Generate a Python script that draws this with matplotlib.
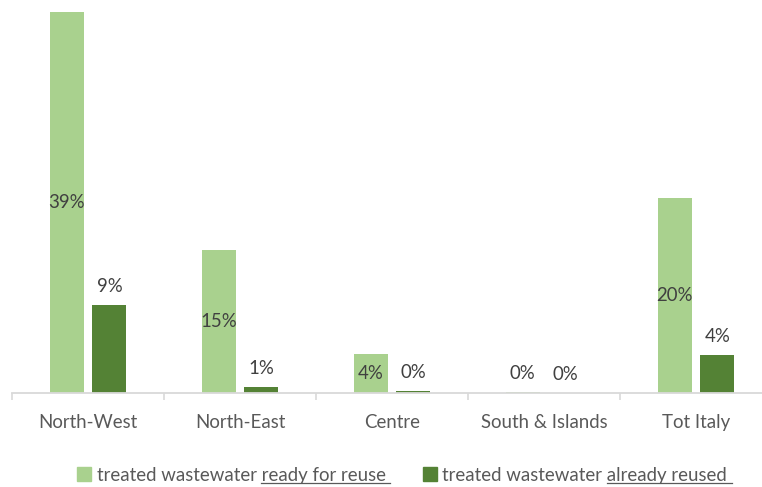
import numpy as np
import matplotlib.pyplot as plt
from matplotlib.patches import Patch
from matplotlib.lines import Line2D

plt.rcParams['font.family'] = ['Lato', 'DejaVu Sans']

regions = ["North-West", "North-East", "Centre", "South & Islands", "Tot Italy"]
ready_for_reuse = [39.0, 14.6, 4.0, 0.1, 19.9]
already_reused = [9.0, 0.6, 0.25, 0.0, 3.9]

legend_prefix = "treated wastewater "
legend_tails = ["ready for reuse", "already reused"]

light = "#a9d18e"
dark = "#548235"
label_col = "#404040"
axis_col = "#595959"
fs = 13.4

W, H = 762, 487
fig = plt.figure(figsize=(W / 100, H / 100), dpi=100)
ax = fig.add_axes([12 / W, (H - 393) / H, 760 / W, 391 / H])

x = np.arange(len(regions))
bw = 0.224
off = 0.141
b1 = ax.bar(x - off, ready_for_reuse, bw, color=light, linewidth=0)
b2 = ax.bar(x + off, already_reused, bw, color=dark, linewidth=0)

ax.set_xlim(-0.5, len(regions) - 0.5)
ax.set_ylim(0, 40)

# light bars: label in the middle, unless the bar is too thin
for rect, v in zip(b1, ready_for_reuse):
    cx = rect.get_x() + rect.get_width() / 2
    if v >= 2:
        ax.text(cx, v / 2, f"{v:.0f}%", ha="center", va="center",
                fontsize=fs, color=label_col)
    else:
        ax.annotate(f"{v:.0f}%", (cx, v), xytext=(0, 7), textcoords="offset points",
                    ha="center", va="bottom", fontsize=fs, color=label_col)

for rect, v in zip(b2, already_reused):
    cx = rect.get_x() + rect.get_width() / 2
    ax.annotate(f"{v:.0f}%", (cx, v), xytext=(0, 7), textcoords="offset points",
                ha="center", va="bottom", fontsize=fs, color=label_col)

for s in ["top", "right", "left"]:
    ax.spines[s].set_visible(False)
ax.spines["bottom"].set_color("#d9d9d9")
ax.spines["bottom"].set_linewidth(1.3)
ax.set_yticks([])

# category labels between boundary ticks
ax.set_xticks(np.arange(len(regions) + 1) - 0.5)
ax.set_xticklabels([])
ax.tick_params(axis="x", length=5, width=1.2, color="#d9d9d9")
ax.set_xticks(x, minor=True)
ax.set_xticklabels(regions, minor=True, fontsize=fs, color=axis_col)
ax.tick_params(axis="x", which="minor", length=0, pad=15)

handles = [Patch(color=light), Patch(color=dark)]
labels = [legend_prefix + t for t in legend_tails]
leg = fig.legend(handles, labels, loc="center", bbox_to_anchor=(402 / W, 1 - 475 / H),
                 ncol=2, frameon=False, fontsize=fs, handlelength=0.75, handleheight=0.75,
                 handletextpad=0.3, columnspacing=2.0, labelcolor=axis_col)

# underline the second part of each legend entry
fig.canvas.draw()
r = fig.canvas.get_renderer()
for t, tail in zip(leg.get_texts(), legend_tails):
    bb = t.get_window_extent(r)
    tmp = fig.text(0, 0, legend_prefix.rstrip() + " ", fontproperties=t.get_fontproperties())
    pre = tmp.get_window_extent(r).width
    tmp.set_text(tail + " ")
    tw = tmp.get_window_extent(r).width
    tmp.remove()
    x0 = bb.x0 + pre
    y0 = bb.y0 + 1
    fig.add_artist(Line2D([x0 / W, (x0 + tw) / W], [y0 / H, y0 / H],
                          transform=fig.transFigure, color=axis_col, linewidth=0.9))

fig.savefig("out.png", dpi=100)
